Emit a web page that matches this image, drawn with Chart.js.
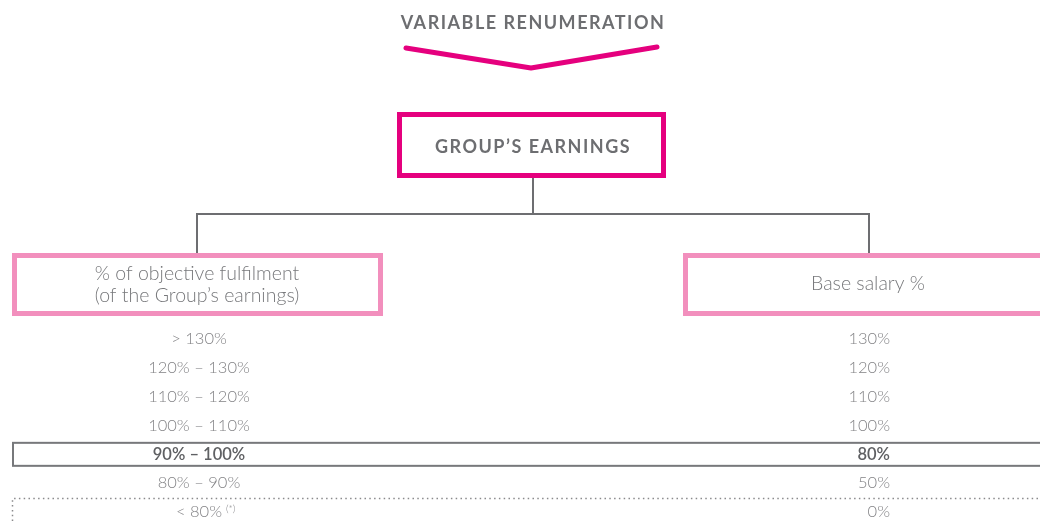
<!DOCTYPE html>
<html>
<head>
<meta charset="utf-8">
<script src="https://cdn.jsdelivr.net/npm/chart.js@4"></script>
<style>
  html, body { margin: 0; padding: 0; background: #fff; }
  #wrap { width: 1040px; height: 521px; position: relative; }
</style>
</head>
<body>
<div id="wrap"><canvas id="scheme"></canvas></div>
<script>
// 文字与数据
const titleText = 'VARIABLE RENUMERATION';
const driverText = 'GROUP’S EARNINGS';
const leftHeader = ['% of objective fulfilment', '(of the Group’s earnings)'];
const rightHeader = ['Base salary %'];
const columns = ['fulfilment', 'salary'];
const fulfilmentRanges = ['> 130%', '120% – 130%', '110% – 120%', '100% – 110%', '90% – 100%', '80% – 90%', '< 80%'];
const baseSalaryPct = [130, 120, 110, 100, 80, 50, 0];
const highlightRow = '90% – 100%';
const footnoteRow = '< 80%';
const footnoteMark = '(*)';

const GRAY = '#6d6e71';
const LIGHT = '#838386';
const MAGENTA = '#e5007e';
const PINK = '#f28fbd';
const FONT = 'Lato, "Open Sans", sans-serif';

// 绘制示意图的插件
const schemePlugin = {
    id: 'scheme',
    afterDraw(chart) {
        const ctx = chart.ctx;
        const yS = chart.scales.y;
        const step = yS.getPixelForValue(1) - yS.getPixelForValue(0);
        ctx.save();
        ctx.textAlign = 'center';
        ctx.textBaseline = 'middle';

        // 标题
        ctx.fillStyle = GRAY;
        ctx.font = 'bold 18px ' + FONT;
        ctx.letterSpacing = '1.5px';
        ctx.fillText(titleText, 533, 23);

        // 箭头
        ctx.strokeStyle = MAGENTA;
        ctx.lineWidth = 5;
        ctx.lineCap = 'round';
        ctx.lineJoin = 'round';
        ctx.beginPath();
        ctx.moveTo(406, 48);
        ctx.lineTo(531, 68);
        ctx.lineTo(657, 47);
        ctx.stroke();

        // 中间方框
        ctx.lineCap = 'butt';
        ctx.lineJoin = 'miter';
        ctx.strokeRect(399.5, 114.5, 264, 61);
        ctx.font = 'bold 18px ' + FONT;
        ctx.letterSpacing = '1.5px';
        ctx.fillText(driverText, 533, 147);
        ctx.letterSpacing = '0px';

        // 连接线
        ctx.strokeStyle = GRAY;
        ctx.lineWidth = 2;
        ctx.beginPath();
        ctx.moveTo(533, 178);
        ctx.lineTo(533, 214);
        ctx.moveTo(197, 255);
        ctx.lineTo(197, 214);
        ctx.lineTo(869, 214);
        ctx.lineTo(869, 255);
        ctx.stroke();

        // 列标题
        ctx.strokeStyle = PINK;
        ctx.lineWidth = 5;
        ctx.strokeRect(14.5, 255.5, 366, 58);
        ctx.strokeRect(685.5, 255.5, 360, 58);
        ctx.fillStyle = '#77787b';
        ctx.font = '300 19.5px ' + FONT;
        ctx.fillText(leftHeader[0], 197, 274);
        ctx.fillText(leftHeader[1], 197, 296);
        ctx.fillText(rightHeader[0], 868, 284);

        // 高亮行
        const hi = fulfilmentRanges.indexOf(highlightRow);
        const hy = yS.getPixelForValue(hi);
        ctx.strokeStyle = '#77787b';
        ctx.lineWidth = 2;
        ctx.strokeRect(13, hy - 11.5, 1040, 23);

        // 虚线
        const fi = fulfilmentRanges.indexOf(footnoteRow);
        const fy = yS.getPixelForValue(fi) - step / 2 + 1;
        ctx.strokeStyle = '#8a8a8c';
        ctx.lineWidth = 1.5;
        ctx.setLineDash([1.5, 3.3]);
        ctx.beginPath();
        ctx.moveTo(12.5, 521);
        ctx.lineTo(12.5, fy);
        ctx.lineTo(1040, fy);
        ctx.stroke();
        ctx.setLineDash([]);

        // 表格文字
        const leftPts = chart.getDatasetMeta(0).data;
        const rightPts = chart.getDatasetMeta(1).data;
        const size = '16.5px ';
        fulfilmentRanges.forEach((label, i) => {
            const bold = label === highlightRow;
            ctx.fillStyle = bold ? '#5f6063' : LIGHT;
            ctx.font = (bold ? '600 ' : '300 ') + size + FONT;
            ctx.textAlign = 'center';
            ctx.fillText(label, leftPts[i].x, leftPts[i].y);
            if (label === footnoteRow) {
                const w = ctx.measureText(label).width;
                ctx.font = '300 10px ' + FONT;
                ctx.textAlign = 'left';
                ctx.fillText(footnoteMark, leftPts[i].x + w / 2 + 4, leftPts[i].y - 3);
            }
            ctx.textAlign = 'right';
            ctx.font = (bold ? '600 ' : '300 ') + size + FONT;
            ctx.fillText(baseSalaryPct[i] + '%', rightPts[i].x, rightPts[i].y);
        });
        ctx.restore();
    }
};

new Chart(document.getElementById('scheme'), {
    type: 'line',
    data: {
        datasets: [
            {
                label: 'fulfilment',
                data: fulfilmentRanges.map(r => ({ x: columns[0], y: r })),
                showLine: false, pointRadius: 0
            },
            {
                label: 'salary',
                data: fulfilmentRanges.map((r, i) => ({ x: columns[1], y: r, v: baseSalaryPct[i] })),
                showLine: false, pointRadius: 0
            }
        ]
    },
    options: {
        responsive: true,
        maintainAspectRatio: false,
        animation: false,
        layout: { padding: { top: 339, bottom: 9, left: 199, right: 150 } },
        scales: {
            x: { type: 'category', labels: columns, offset: false, display: false },
            y: { type: 'category', labels: fulfilmentRanges, offset: false, display: false }
        },
        plugins: {
            legend: { display: false },
            tooltip: { enabled: false }
        }
    },
    plugins: [schemePlugin]
});
</script>
</body>
</html>
